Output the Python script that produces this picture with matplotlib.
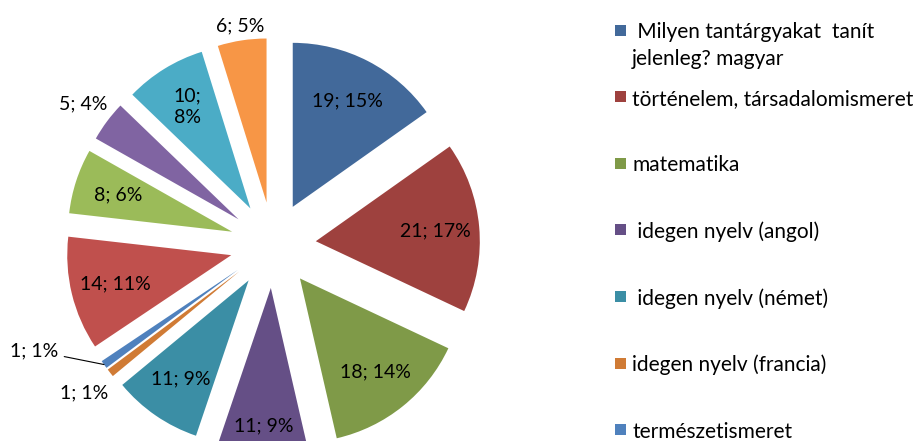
import matplotlib
matplotlib.use('Agg')
import matplotlib.pyplot as plt
from matplotlib.patches import Rectangle
import numpy as np

plt.rcParams['font.family'] = ['Lato', 'DejaVu Sans']

# answers per subject, clockwise from 12 o'clock
counts = [19, 21, 18, 11, 11, 1, 1, 14, 8, 5, 10, 6]
colors = ['#42699a', '#9e413e', '#7f9a48', '#654f86', '#3b8ea5', '#d07b35',
          '#4f81bd', '#c0504d', '#9bbb59', '#8064a2', '#4bacc6', '#f79646']
legend_labels = [' Milyen tantárgyakat  tanít\njelenleg? magyar',
                 'történelem, társadalomismeret',
                 'matematika',
                 ' idegen nyelv (angol)',
                 ' idegen nyelv (német)',
                 'idegen nyelv (francia)',
                 'természetismeret']

W, H = 913, 441
R = 164                 # pie radius, px
cx, cy = 273, H - 245   # pie centre, px from lower left

fig = plt.figure(figsize=(W / 100, H / 100), dpi=100)
ax = fig.add_axes([0, 0, 1, 1])
wedges, _ = ax.pie(counts, colors=colors, startangle=90, counterclock=False,
                   explode=[0.262] * len(counts), radius=1,
                   wedgeprops=dict(linewidth=0))
ax.set_xlim(-cx / R, (W - cx) / R)
ax.set_ylim(-cy / R, (H - cy) / R)
ax.set_aspect('equal')
ax.axis('off')

# data labels "value; percent"
total = sum(counts)
label_dist = {3: 0.84, 5: 1.2, 9: 1.18, 11: 1.09}
wrapped = {10}
fs = 14
for i, (w, v) in enumerate(zip(wedges, counts)):
    txt = '%d; %d%%' % (v, round(100 * v / total))
    if i in wrapped:
        txt = txt.replace('; ', ';\n')
    ang = np.deg2rad((w.theta1 + w.theta2) / 2)
    x0, y0 = w.center
    if i == 6:
        tip = (x0 + w.r * np.cos(ang), y0 + w.r * np.sin(ang))
        ax.annotate(txt, xy=tip, xytext=(-50, 10), textcoords='offset points',
                    ha='center', va='center', fontsize=fs, color='black',
                    arrowprops=dict(arrowstyle='-', color='black', lw=0.8,
                                    shrinkA=2, shrinkB=0))
        continue
    d = label_dist.get(i, 0.73)
    ax.text(x0 + d * w.r * np.cos(ang), y0 + d * w.r * np.sin(ang), txt,
            ha='center', va='center', fontsize=fs, color='black',
            linespacing=1.3)

# legend down the right side, one text per line so every line sits on its own row
for i, (name, col) in enumerate(zip(legend_labels, colors)):
    y = H - (30 + 66.6 * i)
    fig.add_artist(Rectangle((615 / W, (y - 5.5) / H), 11 / W, 11 / H,
                             transform=fig.transFigure, color=col, lw=0))
    for k, line in enumerate(name.split('\n')):
        fig.text(632 / W, (y - 27 * k) / H, line, ha='left',
                 va='center_baseline', fontsize=15, color='black')

fig.savefig('out.png', dpi=100)
